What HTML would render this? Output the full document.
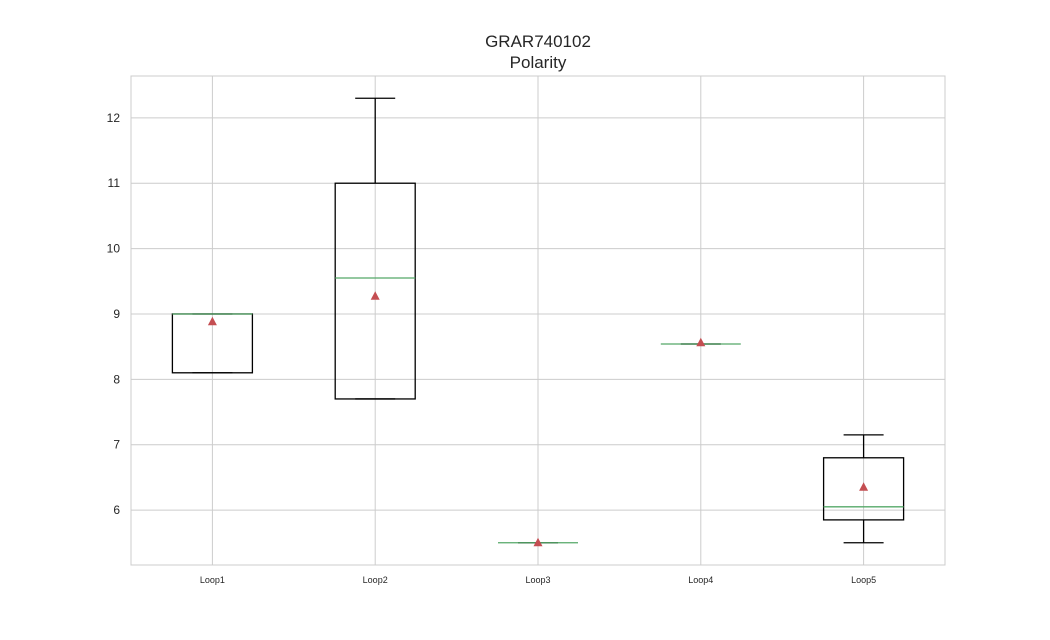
<!DOCTYPE html>
<html><head><meta charset="utf-8"><style>
body{margin:0;background:#fff;font-family:"Liberation Sans",sans-serif}
</style></head><body>
<svg id="chart" width="1050" height="635" xmlns="http://www.w3.org/2000/svg">
<text x="538" y="47" text-anchor="middle" font-size="17" fill="#262626" font-family="Liberation Sans, sans-serif">GRAR740102</text>
<text x="538" y="68" text-anchor="middle" font-size="17" fill="#262626" font-family="Liberation Sans, sans-serif">Polarity</text>
<g id="grid"></g><g id="marks"></g>
<rect x="131" y="76" width="814" height="489" fill="none" stroke="#ccc" stroke-width="1"/>
</svg>
<script>
const categories=["Loop1","Loop2","Loop3","Loop4","Loop5"];
const whiskerLow=[8.1,7.7,5.5,8.54,5.5];
const q1=[8.1,7.7,5.5,8.54,5.85];
const medians=[9.0,9.55,5.5,8.54,6.05];
const q3=[9.0,11.0,5.5,8.54,6.8];
const whiskerHigh=[9.0,12.3,5.5,8.54,7.15];
const means=[8.88,9.27,5.5,8.56,6.35];
const yTicks=[6,7,8,9,10,11,12];

const NS="http://www.w3.org/2000/svg";
const L=131,R=945,T=76,B=565,yMin=5.16,yMax=12.64;
const y=v=>B-(v-yMin)/(yMax-yMin)*(B-T);
const step=(R-L)/categories.length;
const x=i=>L+step*(i+0.5);
const bw=80;
function mk(tag,at,parent){const e=document.createElementNS(NS,tag);for(const k in at)e.setAttribute(k,at[k]);parent.appendChild(e);return e;}
const grid=document.getElementById('grid'),marks=document.getElementById('marks');
yTicks.forEach(t=>{
  const l=mk('line',{x1:L,x2:R,y1:y(t),y2:y(t),stroke:'#ccc','stroke-width':1},grid);
  
  
  const tx=mk('text',{x:L-11,y:y(t)+4,'text-anchor':'end','font-size':12,fill:'#262626'},grid);
  tx.textContent=t;
  
  
});
categories.forEach((c,i)=>{
  const cx=x(i);
  const g=mk('line',{x1:cx,x2:cx,y1:T,y2:B,stroke:'#ccc','stroke-width':1},grid);
  
  
  const tx=mk('text',{x:cx,y:B+18,'text-anchor':'middle','font-size':9,fill:'#262626'},grid);
  tx.textContent=c;
  
  
  const grp=mk('g',{},marks);
  
  
  const s={stroke:'#000','stroke-width':1.3,fill:'none'};
  mk('line',Object.assign({x1:cx,x2:cx,y1:y(whiskerLow[i]),y2:y(q1[i])},s),grp);
  mk('line',Object.assign({x1:cx,x2:cx,y1:y(q3[i]),y2:y(whiskerHigh[i])},s),grp);
  mk('line',Object.assign({x1:cx-bw/4,x2:cx+bw/4,y1:y(whiskerLow[i]),y2:y(whiskerLow[i])},s),grp);
  mk('line',Object.assign({x1:cx-bw/4,x2:cx+bw/4,y1:y(whiskerHigh[i]),y2:y(whiskerHigh[i])},s),grp);
  mk('rect',Object.assign({x:cx-bw/2,y:y(q3[i]),width:bw,height:Math.max(0,y(q1[i])-y(q3[i]))},s),grp);
  mk('line',{x1:cx-bw/2,x2:cx+bw/2,y1:y(medians[i]),y2:y(medians[i]),stroke:'#55a868','stroke-width':1.3},grp);
  const my=y(means[i]);
  mk('polygon',{points:`${cx},${my-5} ${cx-4.5},${my+3.5} ${cx+4.5},${my+3.5}`,fill:'#c44e52'},grp);
});
</script>
</body></html>
